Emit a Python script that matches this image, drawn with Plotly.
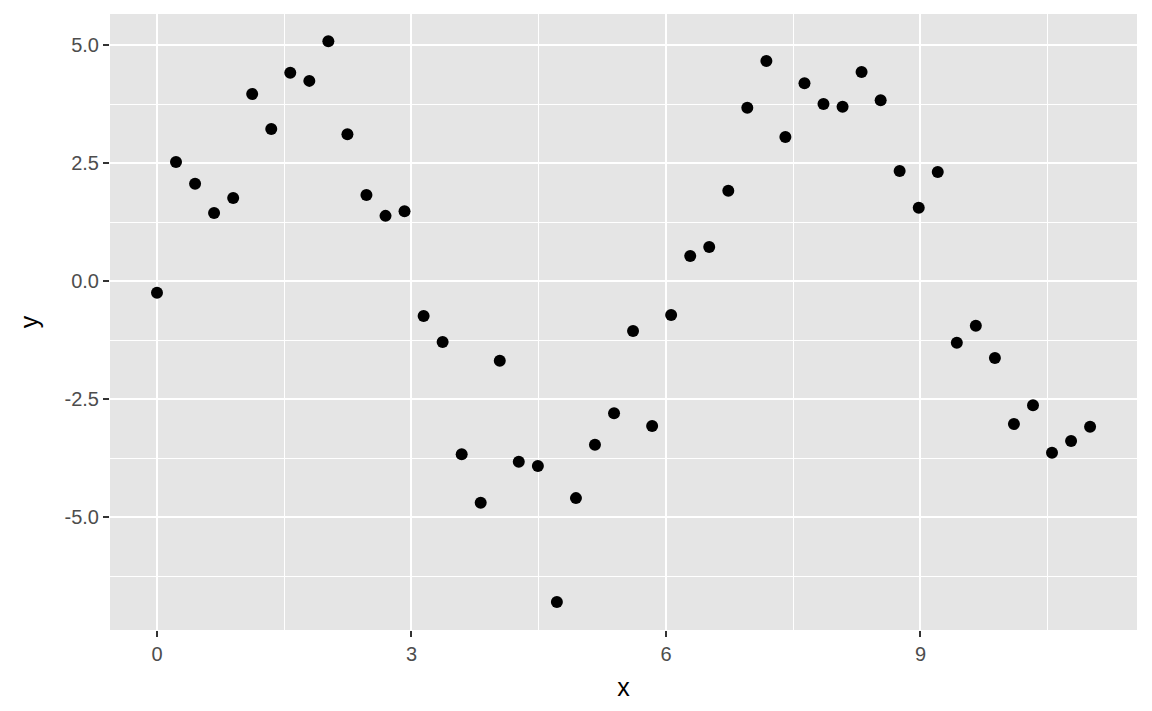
import plotly.graph_objects as go

x_vals = [0.000, 0.224, 0.449, 0.673, 0.898, 1.122, 1.347, 1.571, 1.796, 2.020,
          2.245, 2.469, 2.694, 2.918, 3.143, 3.367, 3.592, 3.816, 4.041, 4.265,
          4.490, 4.714, 4.939, 5.163, 5.388, 5.612, 5.837, 6.061, 6.286, 6.510,
          6.735, 6.959, 7.184, 7.408, 7.633, 7.857, 8.082, 8.306, 8.531, 8.755,
          8.980, 9.204, 9.429, 9.653, 9.878, 10.102, 10.327, 10.551, 10.776, 11.000]
y_vals = [-0.25, 2.52, 2.06, 1.44, 1.76, 3.96, 3.22, 4.41, 4.24, 5.08,
          3.11, 1.82, 1.38, 1.48, -0.74, -1.29, -3.67, -4.70, -1.69, -3.83,
          -3.92, -6.80, -4.60, -3.47, -2.80, -1.06, -3.07, -0.72, 0.53, 0.72,
          1.91, 3.67, 4.66, 3.05, 4.19, 3.75, 3.69, 4.43, 3.83, 2.33,
          1.55, 2.31, -1.31, -0.95, -1.63, -3.03, -2.63, -3.64, -3.39, -3.09]
x_ticks = [0, 3, 6, 9]
y_ticks = [5.0, 2.5, 0.0, -2.5, -5.0]
y_tick_labels = ["5.0", "2.5", "0.0", "-2.5", "-5.0"]

fig = go.Figure(go.Scatter(x=x_vals, y=y_vals, mode="markers",
                           marker=dict(color="black", size=12, line=dict(width=0))))

font = "Liberation Sans, Arial, sans-serif"
fig.update_layout(
    width=1152, height=711,
    margin=dict(l=102, r=23, t=6, b=89),
    paper_bgcolor="white", plot_bgcolor="#E5E5E5",
    showlegend=False,
    font=dict(family=font),
)
fig.update_xaxes(
    range=[-0.554, 11.553], tickvals=x_ticks, ticktext=[str(t) for t in x_ticks],
    showgrid=True, gridcolor="white", gridwidth=2.2, zeroline=False,
    minor=dict(dtick=1.5, tick0=0, showgrid=True, gridcolor="white", gridwidth=1.1),
    ticks="outside", ticklen=6, tickwidth=2, tickcolor="#333333",
    tickfont=dict(size=20, color="#4D4D4D", family=font),
    title=dict(text="x", font=dict(size=25, color="black", family=font), standoff=14),
    showline=False,
)
fig.update_yaxes(
    range=[-7.394, 5.657], tickvals=y_ticks, ticktext=y_tick_labels,
    showgrid=True, gridcolor="white", gridwidth=2.2, zeroline=False,
    minor=dict(dtick=1.25, tick0=0, showgrid=True, gridcolor="white", gridwidth=1.1),
    ticks="outside", ticklen=6, tickwidth=2, tickcolor="#333333",
    tickfont=dict(size=20, color="#4D4D4D", family=font),
    title=dict(text="y", font=dict(size=25, color="black", family=font), standoff=18),
    showline=False,
)
fig.write_html("out.html")
